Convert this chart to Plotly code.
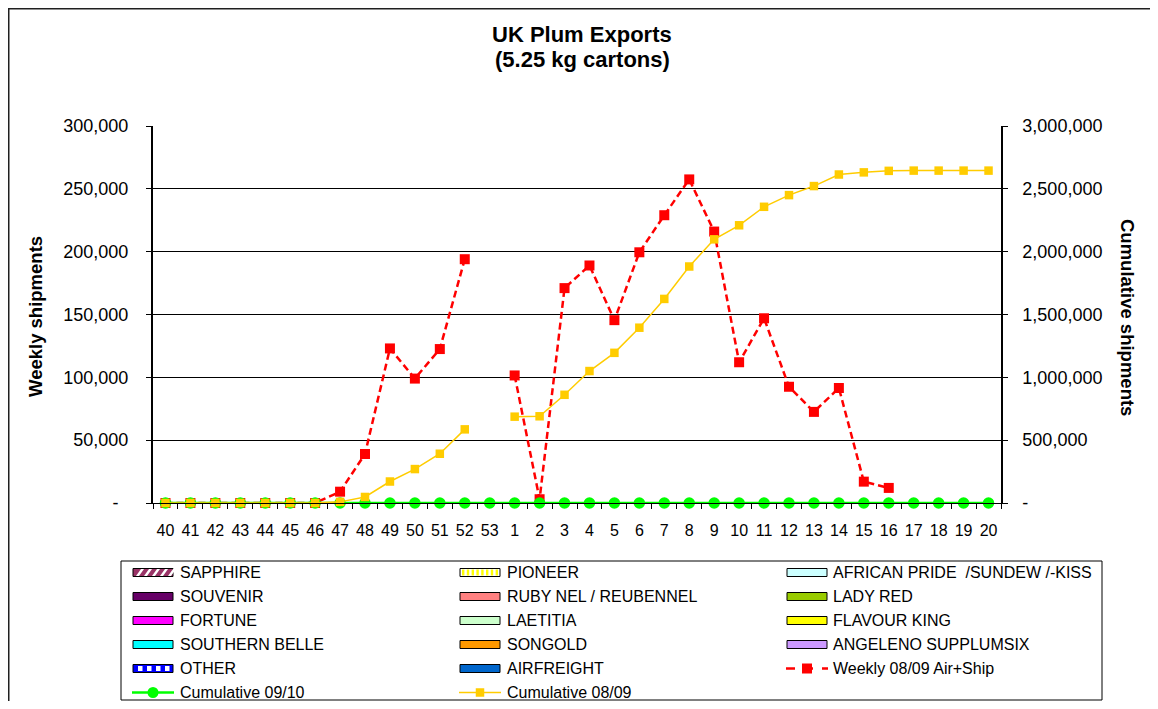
import plotly.graph_objects as go

# week numbers of the season (40..53 then 1..20)
weeks = [str(w) for w in range(40, 54)] + [str(w) for w in range(1, 21)]

weekly_0809 = [0, 0, 0, 0, 0, 0, 0,
               9000, 39000, 123000, 99000, 122500, 194000, None,
               101500, 3000, 171000, 189000, 145500, 199500, 229000, 257500,
               216000, 112000, 147000, 92500, 72500, 91500, 17000, 12000,
               None, None, None, None]

cum_0809 = [0, 0, 0, 0, 0, 0, 0,
            9000, 48000, 171000, 270000, 392000, 586000, None,
            687000, 690000, 861000, 1050000, 1195000, 1395000, 1624000, 1882000,
            2098000, 2210000, 2357000, 2450000, 2522000, 2614000, 2631000, 2643000,
            2645000, 2645000, 2645000, 2645000]

cum_0910 = [0] * 34

left_tick_vals = [0, 50000, 100000, 150000, 200000, 250000, 300000]
left_tick_text = ['-\u00a0\u00a0', '50,000', '100,000', '150,000', '200,000', '250,000', '300,000']
right_tick_vals = [0, 500000, 1000000, 1500000, 2000000, 2500000, 3000000]
right_tick_text = ['-', '500,000', '1,000,000', '1,500,000', '2,000,000', '2,500,000', '3,000,000']

title_lines = ['UK Plum Exports', '(5.25 kg cartons)']

legend_labels = ['SAPPHIRE', 'PIONEER', 'AFRICAN PRIDE\u00a0 /SUNDEW /-KISS',
                 'SOUVENIR', 'RUBY NEL / REUBENNEL', 'LADY RED',
                 'FORTUNE', 'LAETITIA', 'FLAVOUR KING',
                 'SOUTHERN BELLE', 'SONGOLD', 'ANGELENO SUPPLUMSIX',
                 'OTHER', 'AIRFREIGHT', 'Weekly 08/09 Air+Ship',
                 'Cumulative 09/10', 'Cumulative 08/09']

FONT = 'Liberation Sans, Arial, sans-serif'
# page body has an 8px margin all round; keep the figure inside the window
OFF = 8
W, H = 1158 - 2 * OFF, 709 - 2 * OFF
# plot area in page pixels
L, R, T, B = 153, 1001, 126, 503


def px(x):
    return (x - L) / (R - L)


def py(y):
    return (B - y) / (B - T)


fig = go.Figure()
fig.add_trace(go.Scatter(x=weeks, y=weekly_0809, name='Weekly 08/09 Air+Ship', mode='lines+markers',
                         line=dict(color='#FF0000', width=2.5, dash='7px,4px'),
                         marker=dict(symbol='square', size=10, color='#FF0000'),
                         cliponaxis=False))
fig.add_trace(go.Scatter(x=weeks, y=cum_0910, name='Cumulative 09/10', mode='lines+markers', yaxis='y2',
                         line=dict(color='#00FF00', width=2.5),
                         marker=dict(symbol='circle', size=11.5, color='#00FF00'),
                         cliponaxis=False))
fig.add_trace(go.Scatter(x=weeks, y=cum_0809, name='Cumulative 08/09', mode='lines+markers', yaxis='y2',
                         line=dict(color='#FFCC00', width=1.5),
                         marker=dict(symbol='square', size=8.5, color='#FFCC00'),
                         cliponaxis=False))

shapes = []
annotations = []

# outer chart frame: top and left edges only, the rest runs off the picture
shapes.append(dict(type='path', xref='paper', yref='paper',
                   path='M {} {} L {} {} L {} {}'.format(px(OFF + 0.75), py(730), px(OFF + 0.75), py(OFF + 0.75),
                                                           px(1160), py(OFF + 0.75)),
                   line=dict(color='#202020', width=1.5), layer='below'))

# legend box
shapes.append(dict(type='rect', xref='paper', yref='paper', x0=px(121), x1=px(1102), y0=py(561), y1=py(700),
                   line=dict(color='#000000', width=1), fillcolor='white'))

col_sw = [133, 460, 787]
col_tx = [178, 504.5, 831]
row_y0 = 572.5
row_dy = 24
solid_fill = {'SOUVENIR': '#660066', 'RUBY NEL / REUBENNEL': '#FF8080', 'LADY RED': '#99CC00',
              'FORTUNE': '#FF00FF', 'LAETITIA': '#CCFFCC', 'FLAVOUR KING': '#FFFF00',
              'SOUTHERN BELLE': '#00FFFF', 'SONGOLD': '#FF9900', 'ANGELENO SUPPLUMSIX': '#CC99FF',
              'AIRFREIGHT': '#0066CC'}

for i, lab in enumerate(legend_labels):
    r, c = divmod(i, 3)
    yc = row_y0 + r * row_dy
    x0 = col_sw[c]
    x1 = x0 + 40
    ya, yb = yc - 4, yc + 4
    annotations.append(dict(text=lab, xref='paper', yref='paper', x=px(col_tx[c]), y=py(yc),
                            xanchor='left', yanchor='middle', showarrow=False,
                            font=dict(family=FONT, size=16, color='black')))
    box = dict(type='rect', xref='paper', yref='paper', x0=px(x0), x1=px(x1), y0=py(yb), y1=py(ya),
               line=dict(color='#000000', width=1))
    if lab in solid_fill:
        box['fillcolor'] = solid_fill[lab]
        shapes.append(box)
    elif lab.startswith('AFRICAN'):
        box['fillcolor'] = '#CCFFFF'
        shapes.append(box)
    elif lab == 'SAPPHIRE':
        box['fillcolor'] = '#993366'
        shapes.append(box)
        for k in range(5):
            xs = x0 + 3 + k * 8
            path = 'M {} {} L {} {} L {} {} L {} {} Z'.format(
                px(xs), py(yb - 0.5), px(xs + 3), py(yb - 0.5), px(xs + 8), py(ya + 0.5), px(xs + 5), py(ya + 0.5))
            shapes.append(dict(type='path', xref='paper', yref='paper', path=path,
                               fillcolor='white', line=dict(width=0)))
    elif lab == 'PIONEER':
        box['fillcolor'] = 'white'
        shapes.append(box)
        for k in range(8):
            xs = x0 + 2 + k * 4.8
            shapes.append(dict(type='rect', xref='paper', yref='paper', x0=px(xs), x1=px(xs + 2.4),
                               y0=py(yb - 1), y1=py(ya + 1), fillcolor='#FFFF00', line=dict(width=0)))
    elif lab == 'OTHER':
        box['fillcolor'] = '#0000FF'
        shapes.append(box)
        for k in range(4):
            xs = x0 + 5 + k * 9
            shapes.append(dict(type='rect', xref='paper', yref='paper', x0=px(xs), x1=px(xs + 4.5),
                               y0=py(yb - 1.5), y1=py(ya + 1.5), fillcolor='white', line=dict(width=0)))
    else:
        # line series entries
        if lab.startswith('Weekly'):
            col, dash, lw, sym, ms = '#FF0000', 'dash', 2.5, 'square', 10
        elif lab.endswith('09/10'):
            col, dash, lw, sym, ms = '#00FF00', 'solid', 2.5, 'circle', 11
        else:
            col, dash, lw, sym, ms = '#FFCC00', 'solid', 1.5, 'square', 8.5
        shapes.append(dict(type='line', xref='paper', yref='paper', x0=px(x0 - 1), x1=px(x1 + 1),
                           y0=py(yc), y1=py(yc), line=dict(color=col, width=lw, dash=dash)))
        half = ms / 2
        shapes.append(dict(type='circle' if sym == 'circle' else 'rect', xref='paper', yref='paper',
                           x0=px(x0 + 20 - half), x1=px(x0 + 20 + half),
                           y0=py(yc + half), y1=py(yc - half), fillcolor=col, line=dict(width=0)))

# title, two lines
for txt, ty in zip(title_lines, [34, 59]):
    annotations.append(dict(text='<b>' + txt + '</b>', xref='paper', yref='paper', x=px(582), y=py(ty),
                            xanchor='center', yanchor='middle', showarrow=False,
                            font=dict(family=FONT, size=22, color='black')))

# axis titles
annotations.append(dict(text='<b>Weekly shipments</b>', xref='paper', yref='paper', x=px(35), y=py(317),
                        textangle=-90, showarrow=False, xanchor='center', yanchor='middle',
                        font=dict(family=FONT, size=18.5, color='black')))
annotations.append(dict(text='<b>Cumulative shipments</b>', xref='paper', yref='paper', x=px(1128), y=py(317),
                        textangle=90, showarrow=False, xanchor='center', yanchor='middle',
                        font=dict(family=FONT, size=18.5, color='black')))

fig.update_layout(
    width=W, height=H, autosize=False,
    margin=dict(l=L - OFF, r=W - (R - OFF), t=T - OFF, b=H - (B - OFF)),
    paper_bgcolor='white', plot_bgcolor='white',
    showlegend=False,
    font=dict(family=FONT, color='black'),
    xaxis=dict(type='category', range=[-0.5, 33.5], showgrid=False, zeroline=False,
               showline=True, linecolor='black', linewidth=1,
               ticks='outside', ticklen=5, tickcolor='black', tickson='boundaries',
               tickfont=dict(family=FONT, size=16, color='black'), tickangle=0, ticklabelstandoff=13),
    yaxis=dict(range=[0, 300000], tickvals=left_tick_vals, ticktext=left_tick_text,
               showgrid=True, gridcolor='#000000', gridwidth=1, zeroline=False,
               showline=True, linecolor='black', linewidth=2,
               ticks='outside', ticklen=5, tickcolor='black',
               tickfont=dict(family=FONT, size=18, color='black'), ticklabelstandoff=14),
    yaxis2=dict(range=[0, 3000000], tickvals=right_tick_vals, ticktext=right_tick_text,
                overlaying='y', side='right', showgrid=False, zeroline=False,
                showline=True, linecolor='black', linewidth=1.5,
                ticks='outside', ticklen=5, tickcolor='black',
                tickfont=dict(family=FONT, size=18, color='black'), ticklabelstandoff=11),
    shapes=shapes,
    annotations=annotations,
)

fig.write_html('out.html')
